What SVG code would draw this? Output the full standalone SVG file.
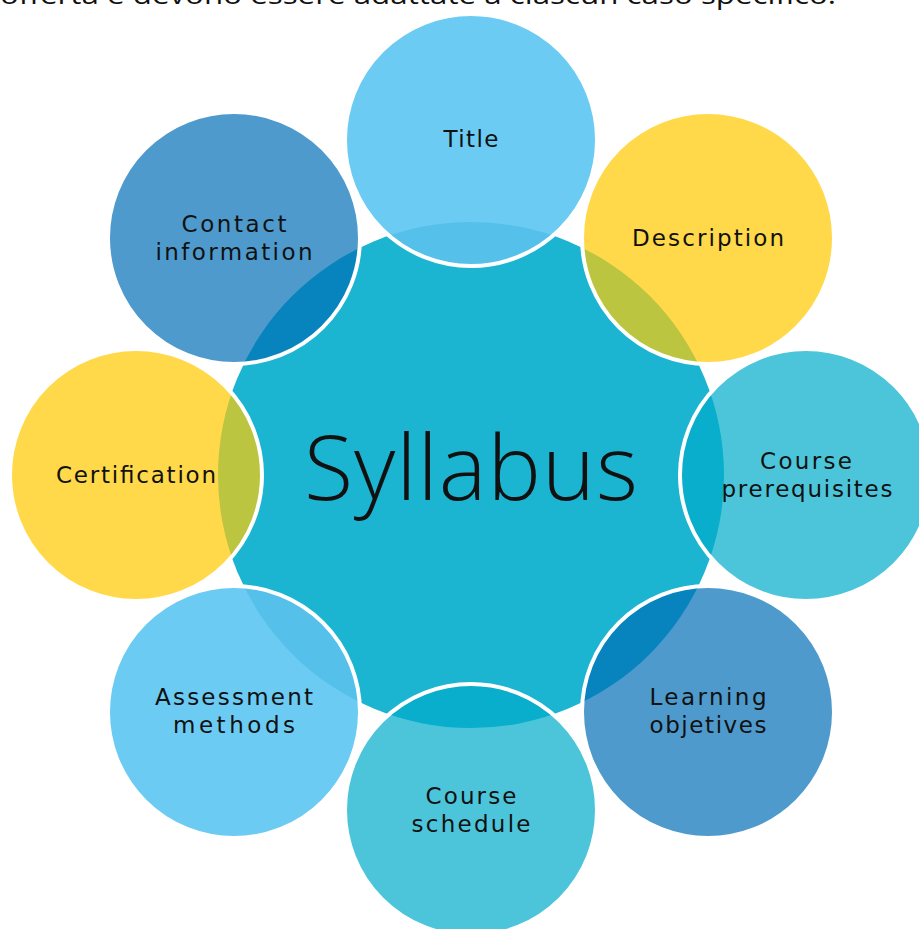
<svg xmlns="http://www.w3.org/2000/svg" width="919" height="929" viewBox="0 0 919 929">
<style>
.bg{fill:#ffffff}
.hub{fill:#1CB5D1}
.ring{fill:none;stroke:#ffffff;stroke-width:4}
.lb{fill:#6BCBF3}.lb-x{fill:#55C1EB}
.yl{fill:#FFD94A}.yl-x{fill:#BCC53F}
.tl{fill:#4CC5DA}.tl-x{fill:#08AECB}
.db{fill:#4E9ACD}.db-x{fill:#0783BE}
text{font-family:"Open Sans","Liberation Sans",sans-serif;fill:#111111;text-anchor:middle}
.lbl{font-family:"DejaVu Sans","Open Sans",sans-serif;font-size:23px}
.big{font-size:90px;font-weight:300}
</style>
<defs>
<clipPath id="hubClip"><circle cx="471" cy="475" r="253"/></clipPath>
</defs>
<rect class="bg" x="0" y="0" width="919" height="929"/>
<text x="418" y="4" style="font-size:26px" textLength="836" lengthAdjust="spacingAndGlyphs">offerta e devono essere adattate a ciascun caso specifico.</text>
<g id="syllabus">
<circle class="hub" cx="471" cy="475" r="253"/>
</g>
<g id="title">
<circle class="lb" cx="471" cy="140" r="126"/>
<circle class="lb-x" cx="471" cy="140" r="126" clip-path="url(#hubClip)"/>
<circle class="ring" cx="471" cy="140" r="126"/>
<text class="lbl" x="471" y="147" textLength="55">Title</text>
</g>
<g id="description">
<circle class="yl" cx="708" cy="238" r="126"/>
<circle class="yl-x" cx="708" cy="238" r="126" clip-path="url(#hubClip)"/>
<circle class="ring" cx="708" cy="238" r="126"/>
<text class="lbl" x="708" y="246" textLength="152">Description</text>
</g>
<g id="prerequisites">
<circle class="tl" cx="806" cy="475" r="126"/>
<circle class="tl-x" cx="806" cy="475" r="126" clip-path="url(#hubClip)"/>
<circle class="ring" cx="806" cy="475" r="126"/>
<text class="lbl" x="806" y="469" textLength="92">Course</text>
<text class="lbl" x="807" y="497" textLength="171">prerequisites</text>
</g>
<g id="objectives">
<circle class="db" cx="708" cy="712" r="126"/>
<circle class="db-x" cx="708" cy="712" r="126" clip-path="url(#hubClip)"/>
<circle class="ring" cx="708" cy="712" r="126"/>
<text class="lbl" x="708" y="705" textLength="117">Learning</text>
<text class="lbl" x="708" y="733" textLength="117">objetives</text>
</g>
<g id="schedule">
<circle class="tl" cx="471" cy="810" r="126"/>
<circle class="tl-x" cx="471" cy="810" r="126" clip-path="url(#hubClip)"/>
<circle class="ring" cx="471" cy="810" r="126"/>
<text class="lbl" x="471" y="804" textLength="91">Course</text>
<text class="lbl" x="471" y="832" textLength="119">schedule</text>
</g>
<g id="assessment">
<circle class="lb" cx="234" cy="712" r="126"/>
<circle class="lb-x" cx="234" cy="712" r="126" clip-path="url(#hubClip)"/>
<circle class="ring" cx="234" cy="712" r="126"/>
<text class="lbl" x="234" y="705" textLength="158">Assessment</text>
<text class="lbl" x="234" y="733" textLength="122">methods</text>
</g>
<g id="certification">
<circle class="yl" cx="136" cy="475" r="126"/>
<circle class="yl-x" cx="136" cy="475" r="126" clip-path="url(#hubClip)"/>
<circle class="ring" cx="136" cy="475" r="126"/>
<text class="lbl" x="136" y="483" textLength="160">Certification</text>
</g>
<g id="contact">
<circle class="db" cx="234" cy="238" r="126"/>
<circle class="db-x" cx="234" cy="238" r="126" clip-path="url(#hubClip)"/>
<circle class="ring" cx="234" cy="238" r="126"/>
<text class="lbl" x="234" y="232" textLength="105">Contact</text>
<text class="lbl" x="234" y="260" textLength="157">information</text>
</g>
<g id="hub-label">
<text class="big" x="471" y="500" textLength="334">Syllabus</text>
</g>
<g id="connectors"></g>
</svg>
